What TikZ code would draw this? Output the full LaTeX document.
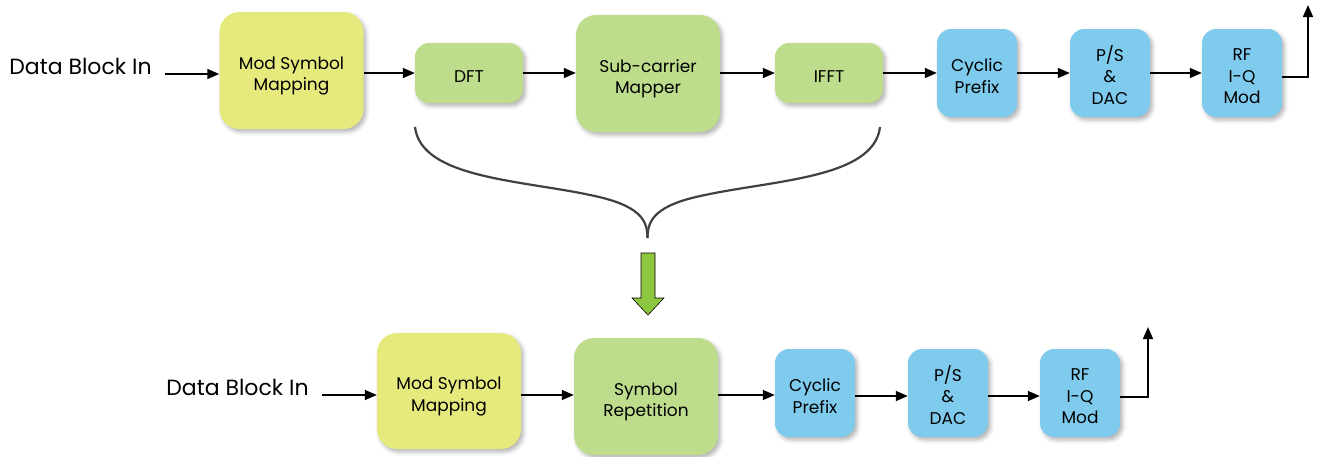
\documentclass[tikz,border=0pt]{standalone}
\usepackage{fontspec}
\setmainfont{Poppins}
\usetikzlibrary{arrows.meta,shadows.blur}

\definecolor{ylw}{RGB}{230,234,124}
\definecolor{grn}{RGB}{189,220,140}
\definecolor{blu}{RGB}{126,203,238}
\definecolor{arrowgrn}{RGB}{141,198,63}
\definecolor{bracegray}{RGB}{64,64,64}

% centred block caption, drawn a little low but keeping its own size
\newcommand\blktext[1]{\raisebox{-5pt}[\height][\depth]{\begin{tabular}{@{}c@{}}#1\end{tabular}}}

\begin{document}
\begin{tikzpicture}[x=1pt,y=-1pt,
  blk/.style={draw=none, inner sep=0pt,
    font=\fontsize{17}{21.5}\selectfont,
    blur shadow={shadow xshift=2.5pt, shadow yshift=-3pt,
      shadow blur radius=4pt, shadow opacity=30}},
  bigbox/.style={blk, minimum width=144pt, minimum height=117pt, rounded corners=20pt},
  smallbox/.style={blk, minimum width=108pt, minimum height=60pt, rounded corners=14pt},
  bluebox/.style={blk, fill=blu, minimum width=80pt, minimum height=88pt, rounded corners=14pt},
  inlabel/.style={font=\fontsize{22}{26}\selectfont, inner sep=0pt},
  arr/.style={line width=1.5pt, -{Triangle[length=12pt,width=10pt]}},
  brace/.style={draw=bracegray, line width=2.2pt}
]
\useasboundingbox (0,0) rectangle (1318,456);

% ---------- OFDMA chain (upper row) ----------
\node[inlabel] (in1) at (80.5,66) {Data Block In};
\node[bigbox, fill=ylw, minimum height=117pt] (ms1) at (291.5,70.5) {\blktext{Mod Symbol\\Mapping}};
\node[smallbox, fill=grn] (dft) at (469,73) {\blktext{DFT}};
\node[bigbox, fill=grn] (scm) at (648,73.5) {\blktext{Sub-carrier\\Mapper}};
\node[smallbox, fill=grn] (ifft) at (829,73) {\blktext{IFFT}};
\node[bluebox] (cp1) at (977,73) {\blktext{Cyclic\\Prefix}};
\node[bluebox] (ps1) at (1110,73) {\blktext{P/S\\\&\\DAC}};
\node[bluebox] (rf1) at (1242,73) {\blktext{RF\\I-Q\\Mod}};

\coordinate (s1) at (165,74);
\coordinate (out1) at (1308,5);
\draw[arr] (s1) -- (s1 -| ms1.west);
\draw[arr] (ms1.east |- dft.center) -- (dft.west);
\draw[arr] (dft.east) -- (dft.east -| scm.west);
\draw[arr] (scm.east |- ifft.center) -- (ifft.west);
\draw[arr] (ifft.east) -- (ifft.east -| cp1.west);
\draw[arr] (cp1.east) -- (ps1.west);
\draw[arr] (ps1.east) -- (rf1.west);
\draw[arr] ([yshift=-4pt]rf1.east) -| (out1);

% ---------- brace gathering DFT .. IFFT ----------
\coordinate (bl) at (415,127);
\coordinate (br) at (880,127);
\coordinate (bt) at (647.5,238);
\draw[brace] (bl) .. controls (421,178) and (520,180) .. (590,195)
             .. controls (640,205) and (647.5,220) .. (bt);
\draw[brace] (br) .. controls (874,178) and (775,180) .. (705,195)
             .. controls (655,205) and (647.5,220) .. (bt);

% ---------- green down arrow ----------
\draw[fill=arrowgrn, draw=black, line width=0.6pt]
  (641,253) -- (655,253) -- (655,298) -- (664,298) -- (648,315)
  -- (632,298) -- (641,298) -- cycle;

% ---------- SC-FDMA chain (lower row) ----------
\node[inlabel] (in2) at (237.5,387) {Data Block In};
\node[bigbox, fill=ylw, minimum height=116pt] (ms2) at (449,391) {\blktext{Mod Symbol\\Mapping}};
\node[bigbox, fill=grn] (sr) at (646,396.5) {\blktext{Symbol\\Repetition}};
\node[bluebox] (cp2) at (815,393) {\blktext{Cyclic\\Prefix}};
\node[bluebox] (ps2) at (948,393) {\blktext{P/S\\\&\\DAC}};
\node[bluebox] (rf2) at (1080,393) {\blktext{RF\\I-Q\\Mod}};

\coordinate (s2) at (322,395);
\coordinate (out2) at (1148,327);
\draw[arr] (s2) -- (s2 -| ms2.west);
\draw[arr] (s2 -| ms2.east) -- (s2 -| sr.west);
\draw[arr] (s2 -| sr.east) -- (s2 -| cp2.west);
\draw[arr] ([yshift=-3pt]cp2.east) -- ([yshift=-3pt]ps2.west);
\draw[arr] ([yshift=-3pt]ps2.east) -- ([yshift=-3pt]rf2.west);
\draw[arr] ([yshift=-4pt]rf2.east) -| (out2);
\end{tikzpicture}
\end{document}
